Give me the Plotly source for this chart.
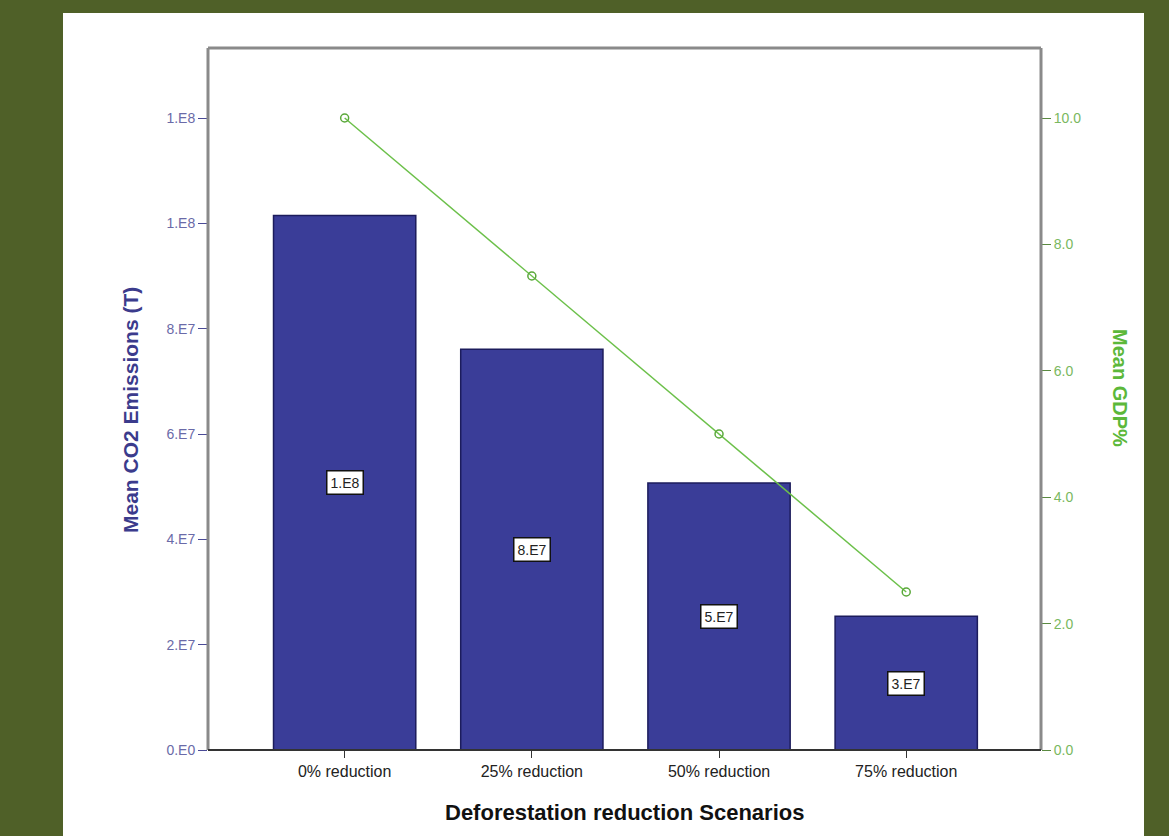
import math
import plotly.graph_objects as go

# Scenario data
scenarios = ["0% reduction", "25% reduction", "50% reduction", "75% reduction"]
co2_emissions = [1.015e8, 7.61e7, 5.07e7, 2.54e7]
gdp_percent = [10.0, 7.5, 5.0, 2.5]
co2_ticks = [0, 2e7, 4e7, 6e7, 8e7, 1e8, 1.2e8]
gdp_ticks = [0, 2, 4, 6, 8, 10]


def sci_label(v):
    """SPSS-style one-digit scientific label, e.g. 7.61e7 -> '8.E7'."""
    if v == 0:
        return "0.E0"
    e = int(math.floor(math.log10(abs(v))))
    m = int(round(v / 10 ** e))
    if m == 10:
        m, e = 1, e + 1
    return f"{m}.E{e}"


FONT = "Liberation Sans, Arial, sans-serif"
BAR_COLOR = "#3a3d98"
GREEN = "#6cc04a"
AXIS_BLUE = "#4a4a96"

# Plot-area geometry in pixels (used for paper-coordinate placement)
L, R, T, B = 208, 1041, 48, 750
PW, PH = R - L, B - T

fig = go.Figure()

fig.add_trace(go.Bar(
    x=scenarios, y=co2_emissions,
    marker=dict(color=BAR_COLOR, line=dict(color="#1c1c5c", width=1.5)),
    width=0.76, showlegend=False, hoverinfo="x+y",
))

fig.add_trace(go.Scatter(
    x=scenarios, y=gdp_percent, yaxis="y2", mode="lines+markers",
    line=dict(color=GREEN, width=1.5),
    marker=dict(symbol="circle-open", size=8, color="#5aa83a", line=dict(width=1.5)),
    showlegend=False,
))

# Value boxes centred in each bar
for s, v in zip(scenarios, co2_emissions):
    fig.add_annotation(
        x=s, y=v / 2, xref="x", yref="y", text=sci_label(v), showarrow=False,
        font=dict(family=FONT, size=14, color="#222222"),
        bgcolor="white", bordercolor="#111111", borderwidth=1.5, borderpad=3,
    )

# Axis titles
fig.add_annotation(
    x=(130 - L) / PW, y=(B - 410) / PH, xref="paper", yref="paper",
    xanchor="center", yanchor="middle",
    text="<b>Mean CO2 Emissions (T)</b>", textangle=-90, showarrow=False,
    font=dict(family=FONT, size=21, color="#3b3b8c"),
)
fig.add_annotation(
    x=(1120 - L) / PW, y=(B - 388) / PH, xref="paper", yref="paper",
    xanchor="center", yanchor="middle",
    text="<b>Mean GDP%</b>", textangle=90, showarrow=False,
    font=dict(family=FONT, size=20, color="#5cb83a"),
)
fig.add_annotation(
    x=0.5, y=(B - 812) / PH, xref="paper", yref="paper",
    xanchor="center", yanchor="middle",
    text="<b>Deforestation reduction Scenarios</b>", showarrow=False,
    font=dict(family=FONT, size=22, color="#111111"),
)

# White panel behind the chart
fig.add_shape(
    type="rect", xref="paper", yref="paper", layer="below",
    x0=-(L - 63) / PW, x1=1 + (1144 - R) / PW,
    y0=-(836 - B) / PH, y1=1 + (T - 13) / PH,
    fillcolor="white", line=dict(width=0),
)

# Plot frame: grey left/top/right, black baseline
for x0, x1, y0, y1 in [(0, 1, 1, 1), (0, 0, 0, 1), (1, 1, 0, 1)]:
    fig.add_shape(type="line", xref="paper", yref="paper",
                  x0=x0, x1=x1, y0=y0, y1=y1,
                  line=dict(color="#8a8a8a", width=3))
fig.add_shape(type="line", xref="paper", yref="paper", x0=0, x1=1, y0=0, y1=0,
              line=dict(color="#333333", width=2))

fig.update_layout(
    width=1169, height=836,
    margin=dict(l=L, r=1169 - R, t=T, b=836 - B),
    paper_bgcolor="#4f6028",
    plot_bgcolor="#efefef",
    font=dict(family=FONT),
    xaxis=dict(
        range=[-0.73, 3.72], showgrid=False, zeroline=False,
        ticks="outside", ticklen=7, tickcolor="#333333",
        tickfont=dict(size=16, color="#222222"),
    ),
    yaxis=dict(
        range=[0, 1.2e8 * PH / (B - 118)], showgrid=False, zeroline=False,
        tickvals=co2_ticks, ticktext=[sci_label(t) for t in co2_ticks],
        ticks="outside", ticklen=9, tickcolor=AXIS_BLUE,
        tickfont=dict(size=14, color="#6a6aa8"),
    ),
    yaxis2=dict(
        overlaying="y", side="right", range=[0, 10 * PH / (B - 118)],
        showgrid=False, zeroline=False,
        tickvals=gdp_ticks, tickformat=".1f",
        ticks="outside", ticklen=9, tickcolor="#5a8a40",
        tickfont=dict(size=14, color="#7ab860"),
    ),
)

fig.write_html("out.html")
